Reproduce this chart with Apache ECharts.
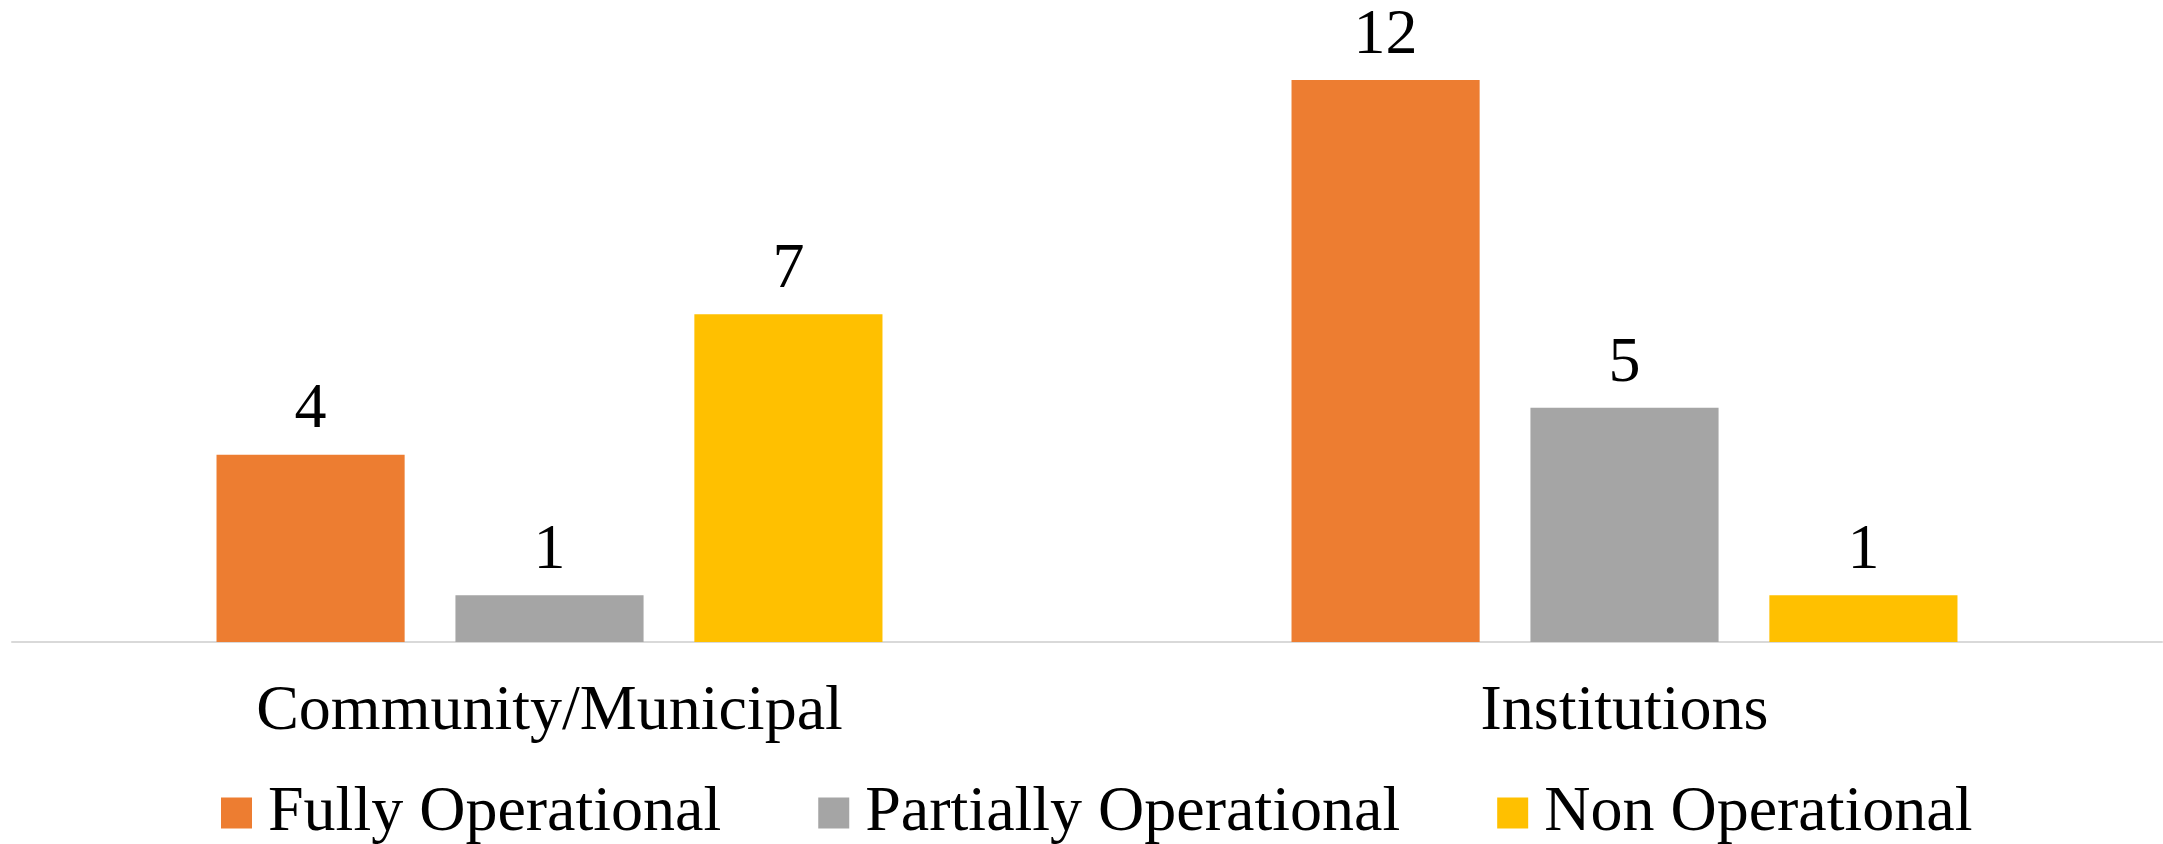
<!DOCTYPE html>
<html>
<head>
<meta charset="utf-8">
<style>
  html, body { margin: 0; padding: 0; background: #ffffff; }
  #chart { width: 2163px; height: 844px; }
</style>
<script src="https://cdn.jsdelivr.net/npm/echarts@6/dist/echarts.min.js"></script>
</head>
<body>
<div id="chart"></div>
<script>
// Facility status counts by category
const categories = ['Community/Municipal', 'Institutions'];
const fullyOperational = [4, 12];
const partiallyOperational = [1, 5];
const nonOperational = [7, 1];
const seriesNames = ['Fully Operational', 'Partially Operational', 'Non Operational'];
const seriesColors = ['#ED7D31', '#A5A5A5', '#FFC000'];

const FONT = '"Liberation Serif", "Times New Roman", serif';

function barSeries(name, data, color) {
  return {
    name: name,
    type: 'bar',
    data: data,
    barWidth: '17.5%',
    barGap: '27%',
    itemStyle: { color: color },
    label: {
      show: true,
      position: 'top',
      distance: 12,
      color: '#000000',
      fontFamily: FONT,
      fontSize: 64
    }
  };
}

const chart = echarts.init(document.getElementById('chart'), null, { renderer: 'canvas' });
chart.setOption({
  animation: false,
  backgroundColor: '#ffffff',
  grid: { left: 12, right: 1, top: 80, bottom: 202, containLabel: false },
  legend: {
    data: seriesNames,
    left: 221,
    top: 781,
    padding: 0,
    itemWidth: 31,
    itemHeight: 31,
    itemGap: 97,
    icon: 'rect',
    textStyle: { fontFamily: FONT, fontSize: 64, color: '#000000', padding: [0, 0, 0, 11] }
  },
  xAxis: {
    type: 'category',
    data: categories,
    axisLine: { show: true, lineStyle: { color: '#D9D9D9', width: 2 } },
    axisTick: { show: false },
    axisLabel: { fontFamily: FONT, fontSize: 64, color: '#000000', margin: 38 }
  },
  yAxis: {
    type: 'value',
    min: 0,
    max: 12,
    show: false,
    splitLine: { show: false }
  },
  series: [
    barSeries(seriesNames[0], fullyOperational, seriesColors[0]),
    barSeries(seriesNames[1], partiallyOperational, seriesColors[1]),
    barSeries(seriesNames[2], nonOperational, seriesColors[2])
  ]
});
</script>
</body>
</html>
